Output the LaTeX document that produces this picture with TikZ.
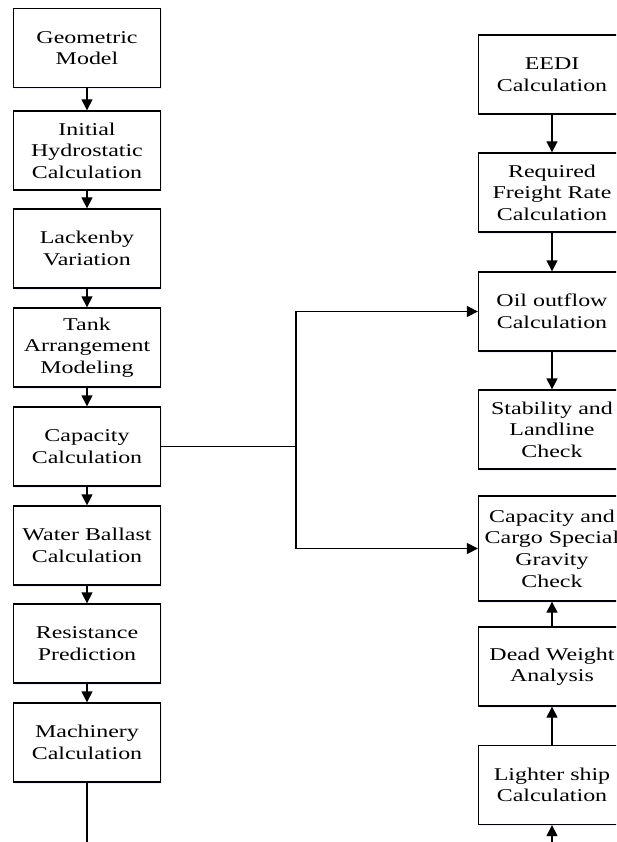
\documentclass[tikz,border=0pt]{standalone}
\usepackage{fontspec}
\setmainfont[FakeStretch=1.33]{Liberation Serif}
\usetikzlibrary{arrows.meta,shadows}

\begin{document}
\begin{tikzpicture}[x=1pt,y=-1pt,
    stage/.style={draw,line width=1.3pt,fill=white,minimum width=147pt,minimum height=79pt,
      inner sep=1pt,align=center,font=\fontsize{18}{21.6}\selectfont,
      drop shadow={shadow xshift=1.5pt,shadow yshift=-1.5pt,opacity=0.25,fill=blue!25}},
    flow/.style={line width=1.3pt,-{Triangle[length=11pt,width=11pt]}},
    link/.style={line width=1.3pt}]
  \path[use as bounding box,clip] (0,0) rectangle (616,842);
  % left column
  \node[stage] (geo) at (87,48) {Geometric\\Model};
  \node[stage] (hydro) at (87,150.5) {Initial\\Hydrostatic\\Calculation};
  \node[stage] (lack) at (87,248.5) {Lackenby\\Variation};
  \node[stage] (tank) at (87,347.5) {Tank\\Arrangement\\Modeling};
  \node[stage] (cap) at (87,446.5) {Capacity\\Calculation};
  \node[stage] (ballast) at (87,545.5) {Water Ballast\\Calculation};
  \node[stage] (resist) at (87,643.5) {Resistance\\Prediction};
  \node[stage] (mach) at (87,742.5) {Machinery\\Calculation};
  \coordinate (machout) at (87,842);
  % right column
  \node[stage] (eedi) at (552,74.5) {EEDI\\Calculation};
  \node[stage] (rfr) at (552,192.5) {Required\\Freight Rate\\Calculation};
  \node[stage] (oil) at (552,311.5) {Oil outflow\\Calculation};
  \node[stage] (stab) at (552,429.5) {Stability and\\Landline\\Check};
  \node[stage,minimum height=105pt] (cargo) at (552,548.5) {Capacity and\\Cargo Special\\Gravity\\Check};
  \node[stage] (dwt) at (552,666.5) {Dead Weight\\Analysis};
  \node[stage] (light) at (552,785) {Lighter ship\\Calculation};
  \coordinate (lightin) at (552,842);
  \coordinate (split) at (296,446.5);
  % connectors
  \foreach \a/\b in {geo/hydro,hydro/lack,lack/tank,tank/cap,cap/ballast,ballast/resist,resist/mach,eedi/rfr,rfr/oil,oil/stab,dwt/cargo,light/dwt}
    \draw[flow] (\a) -- (\b);
  \draw[link] (mach) -- (machout);
  \draw[flow] (lightin) -- (light);
  \draw[link] (cap.east) -- (split);
  \draw[flow] (split) |- (oil.west);
  \draw[flow] (split) |- (cargo.west);
\end{tikzpicture}
\end{document}
